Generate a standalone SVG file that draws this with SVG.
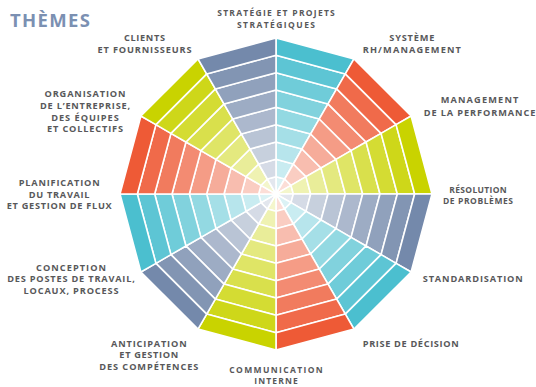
<svg xmlns="http://www.w3.org/2000/svg" xmlns:xlink="http://www.w3.org/1999/xlink" width="536" height="387" viewBox="0 0 536 387">
<style>
.ring{stroke:#fff;stroke-width:1.6;stroke-linejoin:round}
.lbl{font-family:"Open Sans","Liberation Sans",Arial,sans-serif;font-weight:700;font-size:9.2px;fill:#58585a;text-anchor:middle}
.tight{font-size:8.5px}
.title{font-family:"Open Sans","Liberation Sans",Arial,sans-serif;font-weight:700;font-size:18.5px;fill:#7b90b2}
</style>
<defs>
<g id="sector">
<path class="ring" fill-opacity="0.2" d="M276,194 L284.667,178.989 L276,176.667 Z"/>
<path class="ring" fill-opacity="0.3" d="M276,176.667 L284.667,178.989 L293.333,163.978 L276,159.333 Z"/>
<path class="ring" fill-opacity="0.4" d="M276,159.333 L293.333,163.978 L302,148.967 L276,142 Z"/>
<path class="ring" fill-opacity="0.5" d="M276,142 L302,148.967 L310.667,133.956 L276,124.667 Z"/>
<path class="ring" fill-opacity="0.6" d="M276,124.667 L310.667,133.956 L319.333,118.944 L276,107.333 Z"/>
<path class="ring" fill-opacity="0.7" d="M276,107.333 L319.333,118.944 L328,103.933 L276,90 Z"/>
<path class="ring" fill-opacity="0.8" d="M276,90 L328,103.933 L336.667,88.922 L276,72.667 Z"/>
<path class="ring" fill-opacity="0.9" d="M276,72.667 L336.667,88.922 L345.333,73.911 L276,55.333 Z"/>
<path class="ring" fill-opacity="1" d="M276,55.333 L345.333,73.911 L354,58.9 L276,38 Z"/>
</g>
</defs>
<text class="title" x="10" y="26.7" textLength="80">THÈMES</text>
<g id="connectors"/>
<g id="strategie">
<use href="#sector" xlink:href="#sector" fill="#4bbfcf"/>
<text class="lbl tight" x="276" y="16.4" textLength="117.6">STRATÉGIE ET PROJETS</text>
<text class="lbl tight" x="276" y="27.6" textLength="78">STRATÉGIQUES</text>
</g>
<g id="systeme">
<use href="#sector" xlink:href="#sector" fill="#ee5a36" transform="rotate(30 276 194)"/>
<text class="lbl" x="411.8" y="40.7" textLength="45">SYSTÈME</text>
<text class="lbl" x="411.8" y="52.7" textLength="98.3">RH/MANAGEMENT</text>
</g>
<g id="management">
<use href="#sector" xlink:href="#sector" fill="#c9d300" transform="rotate(60 276 194)"/>
<text class="lbl" x="479.5" y="103.3" textLength="77.7">MANAGEMENT</text>
<text class="lbl" x="479.5" y="115.7" textLength="111.6">DE LA PERFORMANCE</text>
</g>
<g id="resolution">
<use href="#sector" xlink:href="#sector" fill="#7489ab" transform="rotate(90 276 194)"/>
<text class="lbl tight" x="478" y="192.7" textLength="57.4">RÉSOLUTION</text>
<text class="lbl tight" x="478" y="203.6" textLength="70">DE PROBLÈMES</text>
</g>
<g id="standardisation">
<use href="#sector" xlink:href="#sector" fill="#4bbfcf" transform="rotate(120 276 194)"/>
<text class="lbl" x="472.7" y="282.3" textLength="100">STANDARDISATION</text>
</g>
<g id="prise-decision">
<use href="#sector" xlink:href="#sector" fill="#ee5a36" transform="rotate(150 276 194)"/>
<text class="lbl" x="410.7" y="346.7" textLength="96">PRISE DE DÉCISION</text>
</g>
<g id="communication">
<use href="#sector" xlink:href="#sector" fill="#c9d300" transform="rotate(180 276 194)"/>
<text class="lbl tight" x="276" y="373.2" textLength="93.4">COMMUNICATION</text>
<text class="lbl tight" x="276" y="384.3" textLength="43.4">INTERNE</text>
</g>
<g id="anticipation">
<use href="#sector" xlink:href="#sector" fill="#7489ab" transform="rotate(210 276 194)"/>
<text class="lbl" x="148.8" y="346.7" textLength="75.7">ANTICIPATION</text>
<text class="lbl" x="148.8" y="358.3" textLength="59">ET GESTION</text>
<text class="lbl" x="148.8" y="370" textLength="99">DES COMPÉTENCES</text>
</g>
<g id="conception">
<use href="#sector" xlink:href="#sector" fill="#4bbfcf" transform="rotate(240 276 194)"/>
<text class="lbl" x="71" y="270.7" textLength="70">CONCEPTION</text>
<text class="lbl" x="71" y="282.3" textLength="127.7">DES POSTES DE TRAVAIL,</text>
<text class="lbl" x="71" y="294" textLength="95">LOCAUX, PROCESS</text>
</g>
<g id="planification">
<use href="#sector" xlink:href="#sector" fill="#ee5a36" transform="rotate(270 276 194)"/>
<text class="lbl" x="59.2" y="186" textLength="81">PLANIFICATION</text>
<text class="lbl" x="59.2" y="197.7" textLength="60.7">DU TRAVAIL</text>
<text class="lbl" x="59.2" y="209.3" textLength="105">ET GESTION DE FLUX</text>
</g>
<g id="organisation">
<use href="#sector" xlink:href="#sector" fill="#c9d300" transform="rotate(300 276 194)"/>
<text class="lbl" x="85" y="97.3" textLength="81">ORGANISATION</text>
<text class="lbl" x="85" y="109" textLength="90">DE L’ENTREPRISE,</text>
<text class="lbl" x="85" y="120.7" textLength="67.6">DES ÉQUIPES</text>
<text class="lbl" x="85" y="132.3" textLength="76">ET COLLECTIFS</text>
</g>
<g id="clients">
<use href="#sector" xlink:href="#sector" fill="#7489ab" transform="rotate(330 276 194)"/>
<text class="lbl" x="144.5" y="40.7" textLength="41">CLIENTS</text>
<text class="lbl" x="144.5" y="52.7" textLength="94">ET FOURNISSEURS</text>
</g>
</svg>
